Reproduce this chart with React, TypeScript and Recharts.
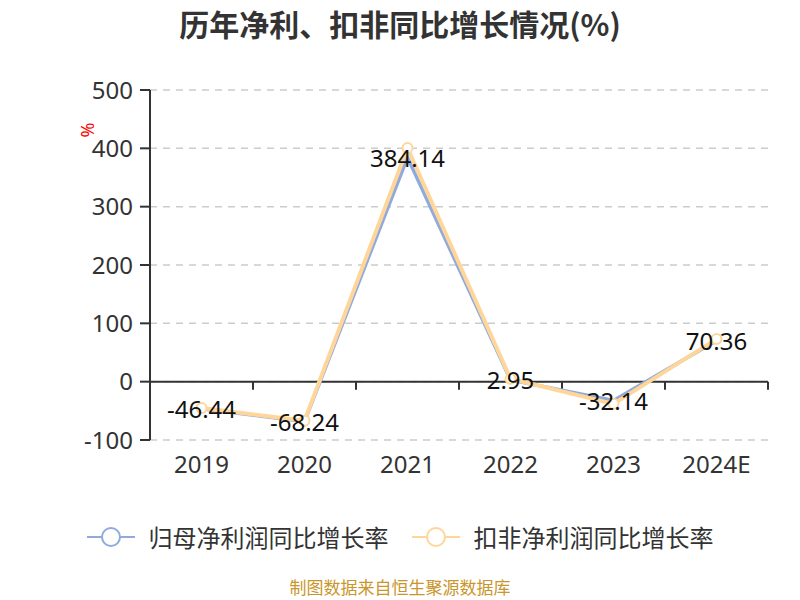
import React from "react";
import {
  LineChart,
  Line,
  XAxis,
  YAxis,
  CartesianGrid,
  ReferenceLine,
  LabelList,
  Label,
} from "recharts";

const categories = ["2019", "2020", "2021", "2022", "2023", "2024E"];
const netProfitGrowth = [-46.44, -68.24, 384.14, 2.95, -32.14, 70.36];
const deductedGrowth = [-45.0, -67.0, 400.5, 5.0, -38.0, 73.0];
const seriesNames = ["归母净利润同比增长率", "扣非净利润同比增长率"];
const yTicks = [-100, 0, 100, 200, 300, 400, 500];

const BLUE = "#8FAADC";
const ORANGE = "#FFD699";
const NUM_FONT = "'Noto Sans', 'Open Sans', sans-serif";
const CJK_FONT = "'Noto Sans CJK SC', 'Noto Sans', sans-serif";

const data = categories.map((c, i) => ({
  x: i,
  name: c,
  a: netProfitGrowth[i],
  b: deductedGrowth[i],
}));

const boundaries = categories.map((_, i) => i + 0.5);

const ValueLabel = (props: any) => {
  const { x, y, value } = props;
  return (
    <text
      x={x}
      y={y}
      textAnchor="middle"
      dominantBaseline="central"
      fill="#111"
      fontSize={24}
      fontFamily={NUM_FONT}
    >
      {value}
    </text>
  );
};

const LegendBlock = () => {
  const colors = [BLUE, ORANGE];
  return (
    <div
      style={{
        position: "absolute",
        top: 522,
        left: 0,
        width: 800,
        display: "flex",
        justifyContent: "center",
        alignItems: "center",
        fontFamily: CJK_FONT,
      }}
    >
      {seriesNames.map((n, i) => (
        <div
          key={n}
          style={{
            display: "flex",
            alignItems: "center",
            marginLeft: i === 0 ? 0 : 23,
          }}
        >
          <svg width={48} height={24} style={{ display: "block" }}>
            <line x1={0} y1={12} x2={48} y2={12} stroke={colors[i]} strokeWidth={2} />
            <circle cx={24} cy={12} r={9} fill="#fff" stroke={colors[i]} strokeWidth={2} />
          </svg>
          <span style={{ marginLeft: 14, fontSize: 24, color: "#333", lineHeight: "30px" }}>
            {n}
          </span>
        </div>
      ))}
    </div>
  );
};

export default function App() {
  return (
    <div
      style={{
        position: "absolute",
        left: 0,
        top: 0,
        width: 800,
        height: 600,
        background: "#fff",
        overflow: "hidden",
      }}
    >
      <div
        style={{
          position: "absolute",
          top: 5,
          left: 0,
          width: 800,
          textAlign: "center",
          fontFamily: CJK_FONT,
          fontWeight: "bold",
          fontSize: 30,
          lineHeight: "36px",
          color: "#333",
        }}
      >
        历年净利、扣非同比增长情况(%)
      </div>
      <div style={{ position: "absolute", left: 0, top: 0 }}>
        <LineChart
          width={800}
          height={600}
          data={data}
          margin={{ top: 90, right: 32, bottom: 120, left: 90 }}
        >
          <CartesianGrid
            horizontal
            vertical={false}
            stroke="#ccc"
            strokeDasharray="7 6"
            strokeWidth={1.5}
          />
          <XAxis
            type="number"
            dataKey="x"
            domain={[-0.5, 5.5]}
            ticks={[0, 1, 2, 3, 4, 5]}
            tickFormatter={(v: number) => categories[v]}
            axisLine={false}
            tickLine={false}
            tickSize={6}
            tickMargin={10}
            height={40}
            tick={{ fill: "#333", fontSize: 24, fontFamily: NUM_FONT }}
          />
          <YAxis
            type="number"
            domain={[-100, 500]}
            ticks={yTicks}
            width={60}
            axisLine={{ stroke: "#333", strokeWidth: 2 }}
            tickLine={{ stroke: "#333", strokeWidth: 2 }}
            tickSize={10}
            tickMargin={7}
            tick={{ fill: "#333", fontSize: 24, fontFamily: NUM_FONT }}
          >
            <Label
              value="%"
              position="insideTopLeft"
              content={(p: any) => {
                const vb = p.viewBox || {};
                const cx = vb.x + vb.width - 63;
                const cy = vb.y + 40;
                return (
                  <text
                    x={cx}
                    y={cy}
                    fill="red"
                    fontSize={18}
                    fontFamily={NUM_FONT}
                    textAnchor="middle"
                    dominantBaseline="central"
                    transform={`rotate(-90 ${cx} ${cy})`}
                  >
                    %
                  </text>
                );
              }}
            />
          </YAxis>
          <ReferenceLine y={0} stroke="#333" strokeWidth={2} />
          {boundaries.map((b) => (
            <ReferenceLine
              key={b}
              segment={[
                { x: b, y: 0 },
                { x: b, y: -14 },
              ]}
              stroke="#333"
              strokeWidth={2}
            />
          ))}
          <Line
            type="linear"
            dataKey="a"
            name={seriesNames[0]}
            stroke={BLUE}
            strokeWidth={3.5}
            dot={false}
            isAnimationActive={false}
          />
          <Line
            type="linear"
            dataKey="b"
            name={seriesNames[1]}
            stroke={ORANGE}
            strokeWidth={4}
            dot={{ r: 5, fill: "#fff", stroke: ORANGE, strokeWidth: 2 }}
            isAnimationActive={false}
          />
          <Line
            type="linear"
            dataKey="a"
            stroke="none"
            dot={false}
            activeDot={false}
            legendType="none"
            isAnimationActive={false}
          >
            <LabelList dataKey="a" content={<ValueLabel />} />
          </Line>
        </LineChart>
      </div>
      <LegendBlock />
      <div
        style={{
          position: "absolute",
          top: 576,
          left: 0,
          width: 800,
          textAlign: "center",
          fontFamily: CJK_FONT,
          fontSize: 17,
          lineHeight: "22px",
          color: "#C9962B",
        }}
      >
        制图数据来自恒生聚源数据库
      </div>
    </div>
  );
}
